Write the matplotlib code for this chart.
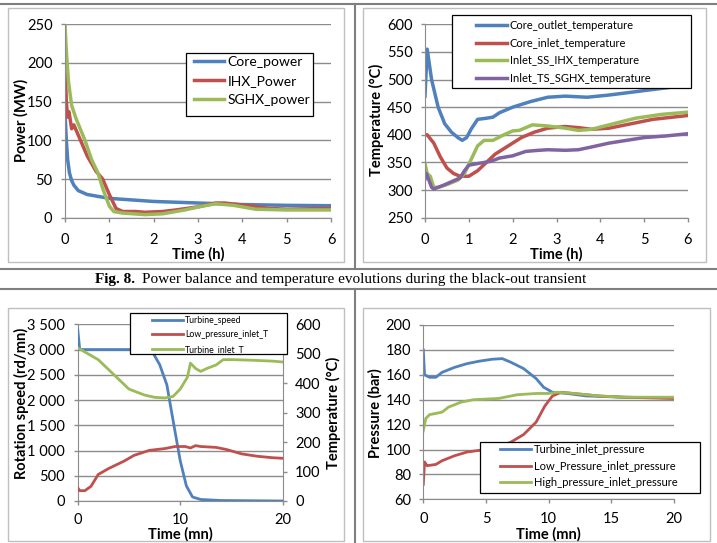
import matplotlib.pyplot as plt
from matplotlib.lines import Line2D
from matplotlib.patches import Rectangle
from matplotlib.ticker import FuncFormatter

# ---- data: top-left, power (MW) vs time (h)
core_power_t = [0, 0.03, 0.06, 0.1, 0.15, 0.2, 0.3, 0.5, 0.8, 1.0, 1.5, 2.0, 3.0, 4.0, 5.0, 6.0]
core_power = [135, 100, 75, 58, 48, 42, 35, 30, 27, 25, 23, 21, 19, 17, 16, 15.5]
ihx_power_t = [0, 0.03, 0.06, 0.09, 0.15, 0.2, 0.35, 0.5, 0.7, 0.85, 1.0, 1.15, 1.3, 1.6, 1.8,
               2.2, 2.5, 3.0, 3.4, 3.6, 4.2, 4.6, 5.0, 6.0]
ihx_power = [200, 150, 130, 137, 115, 120, 100, 80, 60, 50, 30, 12, 8, 8, 7,
             8, 10, 14, 19, 19, 15, 12, 11, 12]
sghx_power_t = [0, 0.03, 0.08, 0.15, 0.25, 0.45, 0.6, 0.75, 0.85, 1.0, 1.1, 1.3, 1.8, 2.2,
                2.7, 3.1, 3.4, 3.8, 4.3, 5.0, 6.0]
sghx_power = [250, 215, 175, 145, 128, 100, 75, 57, 38, 15, 8, 6, 4, 5,
              10, 15, 18, 16, 11, 10, 10]

# ---- data: top-right, temperature (°C) vs time (h)
core_out_t = [0, 0.05, 0.15, 0.3, 0.45, 0.6, 0.75, 0.85, 0.95, 1.05, 1.2, 1.4, 1.55, 1.7,
              2.0, 2.4, 2.8, 3.2, 3.7, 4.2, 5.0, 5.5, 6.0]
core_out = [470, 555, 500, 450, 420, 405, 395, 390, 395, 410, 428, 430, 432, 440,
            450, 460, 468, 470, 468, 472, 480, 485, 490]
core_in_t = [0, 0.05, 0.2, 0.35, 0.5, 0.65, 0.8, 1.0, 1.2, 1.4, 1.6, 1.9, 2.2, 2.5, 2.8,
             3.2, 3.5, 3.8, 4.2, 4.7, 5.2, 6.0]
core_in = [400, 400, 385, 360, 340, 330, 325, 325, 335, 350, 365, 380, 395, 405, 412,
           415, 413, 410, 412, 420, 428, 435]
ss_ihx_t = [0, 0.05, 0.12, 0.2, 0.3, 0.5, 0.75, 0.9, 1.05, 1.2, 1.35, 1.55, 1.8, 2.0, 2.15,
            2.45, 2.8, 3.2, 3.5, 3.8, 4.3, 4.8, 5.4, 6.0]
ss_ihx = [348, 330, 325, 305, 305, 310, 318, 330, 355, 380, 390, 390, 400, 407, 408,
          418, 416, 412, 408, 410, 420, 430, 437, 441]
ts_sghx_t = [0, 0.03, 0.08, 0.15, 0.2, 0.4, 0.6, 0.8, 0.9, 1.0, 1.2, 1.5, 1.7, 2.0, 2.3,
             2.6, 2.8, 3.2, 3.5, 3.8, 4.2, 4.6, 5.0, 5.5, 6.0]
ts_sghx = [320, 330, 320, 305, 302, 308, 315, 322, 335, 345, 348, 352, 358, 362, 370,
           372, 373, 372, 373, 378, 385, 390, 395, 398, 402]

# ---- data: bottom-left, speed (rd/mn) and temperature (°C) vs time (mn)
speed_t = [0, 0.2, 3, 7, 7.3, 8, 8.7, 9.3, 10, 10.6, 11.2, 12, 14, 20]
speed = [3400, 3000, 3000, 3000, 2950, 2700, 2300, 1600, 800, 300, 80, 30, 10, 0]
lp_temp_t = [0, 0.2, 0.7, 1.3, 2, 3, 4.5, 5.5, 7, 8.5, 9.5, 10.5, 11, 11.5, 12, 13.5,
             14.5, 16, 17.5, 19, 20]
lp_temp = [45, 35, 35, 50, 90, 110, 135, 155, 172, 178, 185, 185, 180, 188, 185, 182,
           175, 160, 152, 147, 145]
turb_temp_t = [0, 2, 3.5, 5, 6.5, 7.5, 8.5, 9.3, 10, 10.7, 11, 11.5, 12, 12.6, 13.5,
               14.2, 15, 17, 19, 20]
turb_temp = [520, 480, 430, 380, 360, 352, 350, 355, 380, 420, 468, 450, 440, 450, 462,
             480, 480, 478, 475, 472]

# ---- data: bottom-right, pressure (bar) vs time (mn)
turb_p_t = [0, 0.1, 0.5, 1, 1.5, 2.5, 3.5, 4.5, 5.5, 6.3, 7, 8, 9, 9.6, 10.3, 11.5, 13, 16, 20]
turb_p = [180, 160, 158, 158, 162, 166, 169, 171, 172.5, 173, 170, 165, 157, 150, 146, 145,
          143, 142, 141.5]
lp_p_t = [0, 0.1, 0.3, 1, 1.5, 2.5, 3.5, 5, 6, 7, 8, 9, 9.7, 10.3, 11, 12, 14, 16, 20]
lp_p = [72, 90, 87, 88, 91, 95, 98, 100, 102, 106, 112, 122, 135, 143, 146, 145, 143, 142, 141]
hp_p_t = [0, 0.2, 0.5, 1.5, 2, 3, 4, 6, 7.5, 9, 10, 10.7, 12, 14, 16, 20]
hp_p = [115, 125, 128, 130, 134, 138, 140, 141, 144, 145, 145, 146, 145, 143, 142, 142]

BLUE, RED, GREEN, PURPLE = '#4F81BD', '#C0504D', '#9BBB59', '#8064A2'
GRID = '#8C8C8C'
W, H = 717, 543

plt.rcParams['font.family'] = ['Lato', 'DejaVu Sans']

fig = plt.figure(figsize=(W / 100, H / 100), dpi=100)


def fx(x):
    return x / W


def fy(y):
    return 1 - y / H


def add_ax(x0, y0, x1, y1):
    return fig.add_axes([fx(x0), fy(y1), (x1 - x0) / W, (y1 - y0) / H])


def frame(x0, y0, x1, y1, color, lw):
    fig.add_artist(Rectangle((fx(x0), fy(y1)), (x1 - x0) / W, (y1 - y0) / H,
                             transform=fig.transFigure, fill=False, ec=color, lw=lw))


def hline(y, x0, x1):
    fig.add_artist(Line2D([fx(x0), fx(x1)], [fy(y), fy(y)], color='#7F7F7F', lw=1.5))


def vline(x, y0, y1):
    fig.add_artist(Line2D([fx(x), fx(x)], [fy(y0), fy(y1)], color='#7F7F7F', lw=1.5))


def style(ax, xpad=8):
    for s in ['top', 'right']:
        ax.spines[s].set_visible(False)
    for s in ['left', 'bottom']:
        ax.spines[s].set_color(GRID)
    ax.grid(axis='y', color=GRID, lw=1)
    ax.set_axisbelow(True)
    ax.tick_params(length=3, width=1, color=GRID, labelsize=10.5)
    ax.tick_params(axis='x', pad=xpad)
    ax.tick_params(axis='y', pad=6)


def legend(ax, handles, labels, box, x, y, fs, hl, ls):
    x0, y0, x1, y1 = box
    ax.add_patch(Rectangle((fx(x0), fy(y1)), (x1 - x0) / W, (y1 - y0) / H,
                           transform=fig.transFigure, fc='white', ec='black', lw=0.9,
                           clip_on=False, zorder=15))
    lg = ax.legend(handles, labels, loc='upper left', bbox_to_anchor=(fx(x), fy(y)),
                   bbox_transform=fig.transFigure, frameon=False, fontsize=fs,
                   handlelength=hl, handletextpad=0.25, labelspacing=ls,
                   borderpad=0, borderaxespad=0)
    lg.set_zorder(20)
    return lg


def label(x, y, s, rot=0):
    fig.text(fx(x), fy(y), s, rotation=rot, ha='center', va='center',
             fontsize=10.5, fontweight='bold')


# table borders and chart frames
hline(4, 0, 717)
hline(269, 0, 717)
hline(289, 0, 717)
vline(355, 4, 269)
vline(355, 289, 543)
frame(8, 8, 344, 262, '#BFBFBF', 1)
frame(363, 8, 706, 262, '#BFBFBF', 1)
frame(8, 308, 344, 541, '#BFBFBF', 1)
frame(363, 308, 710, 541, '#BFBFBF', 1)

# ---- panel 1
ax1 = add_ax(65, 24.3, 331, 217.7)
lw = 2.5
h1, = ax1.plot(core_power_t, core_power, color=BLUE, lw=lw)
h2, = ax1.plot(ihx_power_t, ihx_power, color=RED, lw=lw)
h3, = ax1.plot(sghx_power_t, sghx_power, color=GREEN, lw=lw)
ax1.set_xlim(0, 6)
ax1.set_ylim(0, 250)
ax1.set_xticks(range(0, 7))
ax1.set_yticks(range(0, 251, 50))
style(ax1)
label(21, 120, 'Power (MW)', 90)
label(198, 254, 'Time (h)')
legend(ax1, [h1, h2, h3], ['Core_power', 'IHX_Power', 'SGHX_power'],
       (186, 53, 313, 116), 194, 56, 10, 2.15, 0.5)

# ---- panel 2
ax2 = add_ax(425, 24.3, 688, 217.7)
g1, = ax2.plot(core_out_t, core_out, color=BLUE, lw=lw)
g2, = ax2.plot(core_in_t, core_in, color=RED, lw=lw)
g3, = ax2.plot(ss_ihx_t, ss_ihx, color=GREEN, lw=lw)
g4, = ax2.plot(ts_sghx_t, ts_sghx, color=PURPLE, lw=lw)
ax2.set_xlim(0, 6)
ax2.set_ylim(250, 600)
ax2.set_xticks(range(0, 7))
ax2.set_yticks(range(250, 601, 50))
style(ax2)
label(376, 120, 'Temperature (°C)', 90)
label(556, 254, 'Time (h)')
legend(ax2, [g1, g2, g3, g4],
       ['Core_outlet_temperature', 'Core_inlet_temperature',
        'Inlet_SS_IHX_temperature', 'Inlet_TS_SGHX_temperature'],
       (452, 15, 691, 88), 476, 20, 8, 2.8, 0.6)

# caption
fig.text(fx(95), fy(279), 'Fig. 8.', ha='left', va='center', fontsize=11,
         fontweight='bold', family='Liberation Serif')
fig.text(fx(142), fy(279), 'Power balance and temperature evolutions during the black-out transient',
         ha='left', va='center', fontsize=11, family='Liberation Serif')

# ---- panel 3
lw2 = 2.0
ax3 = add_ax(77.7, 324.3, 282.7, 501)
ax3b = ax3.twinx()
k1, = ax3.plot(speed_t, speed, color=BLUE, lw=lw2, zorder=3)
k2, = ax3b.plot(lp_temp_t, lp_temp, color=RED, lw=lw2)
k3, = ax3b.plot(turb_temp_t, turb_temp, color=GREEN, lw=lw2)
ax3.set_xlim(0, 20)
ax3.set_ylim(0, 3500)
ax3.set_xticks([0, 10, 20])
ax3.set_yticks(range(0, 3501, 500))
ax3.yaxis.set_major_formatter(FuncFormatter(lambda v, p: f'{int(v):,}'.replace(',', ' ')))
style(ax3, xpad=6)
ax3b.set_ylim(0, 600)
ax3b.set_yticks(range(0, 601, 100))
for s in ['top', 'left', 'bottom']:
    ax3b.spines[s].set_visible(False)
ax3b.spines['right'].set_color(GRID)
ax3b.tick_params(length=3, width=1, color=GRID, labelsize=10.5, pad=6)
label(21, 403, 'Rotation speed (rd/mn)', 90)
label(333, 413, 'Temperature (°C)', 90)
label(180, 534, 'Time (mn)')
legend(ax3b, [k1, k2, k3], ['Turbine_speed', 'Low_pressure_inlet_T', 'Turbine_inlet_T'],
       (130, 313, 287, 354), 152, 316, 6.3, 3.5, 0.62)

# ---- panel 4
ax4 = add_ax(423.3, 325, 674, 499.3)
m1, = ax4.plot(turb_p_t, turb_p, color=BLUE, lw=lw2)
m2, = ax4.plot(lp_p_t, lp_p, color=RED, lw=lw2)
m3, = ax4.plot(hp_p_t, hp_p, color=GREEN, lw=lw2)
ax4.set_xlim(0, 20)
ax4.set_ylim(60, 200)
ax4.set_xticks(range(0, 21, 5))
ax4.set_yticks(range(60, 201, 20))
style(ax4, xpad=6)
label(375, 413, 'Pressure (bar)', 90)
label(548, 534, 'Time (mn)')
legend(ax4, [m1, m2, m3],
       ['Turbine_inlet_pressure', 'Low_Pressure_inlet_pressure', 'High_pressure_inlet_pressure'],
       (480, 442, 700, 493), 500, 444, 8, 2.8, 0.5)

fig.savefig('out.png', dpi=100)
